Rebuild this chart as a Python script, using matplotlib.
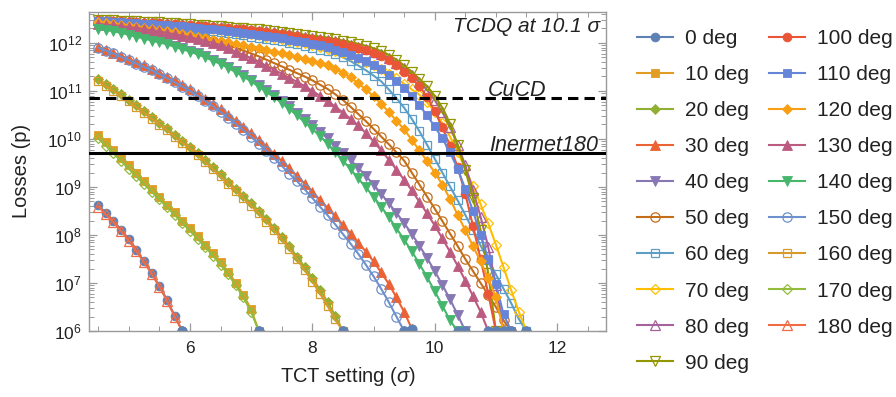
import numpy as np
import matplotlib
matplotlib.use("Agg")
import matplotlib.pyplot as plt
from matplotlib.ticker import LogLocator, MultipleLocator, NullFormatter, FixedLocator, LogFormatterMathtext

plt.rcParams['font.family'] = ['Liberation Sans', 'DejaVu Sans']
plt.rcParams['mathtext.fontset'] = 'custom'
plt.rcParams['mathtext.rm'] = 'Liberation Sans'
plt.rcParams['mathtext.it'] = 'Liberation Sans:italic'
plt.rcParams['mathtext.bf'] = 'Liberation Sans:bold'

# TCT setting in sigma (shared x grid)
SIGMA = [4.5, 4.625, 4.75, 4.875, 5.0, 5.125, 5.25, 5.375,
         5.5, 5.625, 5.75, 5.875, 6.0, 6.125, 6.25, 6.375,
         6.5, 6.625, 6.75, 6.875, 7.0, 7.125, 7.25, 7.375,
         7.5, 7.625, 7.75, 7.875, 8.0, 8.125, 8.25, 8.375,
         8.5, 8.625, 8.75, 8.875, 9.0, 9.125, 9.25, 9.375,
         9.5, 9.625, 9.75, 9.875, 10.0, 10.125, 10.25, 10.375,
         10.5, 10.625, 10.75, 10.875, 11.0, 11.125, 11.25, 11.375,
         11.5]

ANGLE_LABELS = ['0 deg', '10 deg', '20 deg', '30 deg', '40 deg', '50 deg', '60 deg',
                '70 deg', '80 deg', '90 deg', '100 deg', '110 deg', '120 deg', '130 deg',
                '140 deg', '150 deg', '160 deg', '170 deg', '180 deg']

# log10 of losses (protons), one list per angle
log_loss_000 = [8.62, 8.46, 8.29, 8.11, 7.91, 7.68, 7.45, 7.21, 6.94, 6.65, 6.32, 6.00]
log_loss_010 = [10.09, 9.93, 9.77, 9.61, 9.45, 9.29, 9.12, 8.96,
                8.80, 8.63, 8.47, 8.30, 8.14, 7.97, 7.80, 7.62,
                7.43, 7.23, 7.00, 6.75, 6.45, 6.00]
log_loss_020 = [11.24, 11.14, 11.04, 10.93, 10.82, 10.70, 10.58, 10.46,
                10.34, 10.22, 10.09, 9.96, 9.84, 9.70, 9.56, 9.41,
                9.26, 9.11, 8.96, 8.81, 8.66, 8.50, 8.33, 8.15,
                7.96, 7.76, 7.55, 7.33, 7.10, 6.86, 6.60, 6.32,
                6.00]
log_loss_030 = [11.92, 11.86, 11.80, 11.73, 11.67, 11.60, 11.53, 11.46,
                11.38, 11.30, 11.22, 11.13, 11.04, 10.94, 10.84, 10.73,
                10.62, 10.50, 10.38, 10.25, 10.12, 9.98, 9.84, 9.69,
                9.54, 9.39, 9.23, 9.07, 8.90, 8.73, 8.56, 8.39,
                8.21, 8.03, 7.84, 7.65, 7.45, 7.22, 6.98, 6.70,
                6.40, 6.05]
log_loss_040 = [12.32, 12.29, 12.26, 12.23, 12.19, 12.15, 12.11, 12.07,
                12.03, 11.99, 11.94, 11.89, 11.84, 11.78, 11.72, 11.65,
                11.58, 11.50, 11.42, 11.33, 11.23, 11.13, 11.02, 10.91,
                10.80, 10.68, 10.55, 10.42, 10.29, 10.15, 10.01, 9.86,
                9.71, 9.56, 9.40, 9.23, 9.05, 8.86, 8.66, 8.46,
                8.25, 8.02, 7.78, 7.52, 7.25, 6.96, 6.66, 6.34,
                6.00]
log_loss_050 = [12.42, 12.41, 12.39, 12.38, 12.36, 12.34, 12.32, 12.30,
                12.27, 12.25, 12.22, 12.19, 12.16, 12.13, 12.09, 12.05,
                12.00, 11.95, 11.90, 11.84, 11.78, 11.72, 11.65, 11.58,
                11.51, 11.44, 11.37, 11.30, 11.22, 11.13, 11.04, 10.93,
                10.81, 10.67, 10.52, 10.37, 10.21, 10.05, 9.89, 9.72,
                9.55, 9.30, 9.05, 8.80, 8.55, 8.29, 8.03, 7.77,
                7.50, 7.25, 7.00, 6.75, 6.50, 6.22, 6.00]
log_loss_060 = [12.45, 12.44, 12.43, 12.42, 12.41, 12.40, 12.39, 12.38,
                12.36, 12.35, 12.33, 12.32, 12.30, 12.28, 12.26, 12.24,
                12.22, 12.20, 12.18, 12.16, 12.13, 12.11, 12.08, 12.06,
                12.03, 12.00, 11.97, 11.94, 11.90, 11.86, 11.83, 11.77,
                11.70, 11.62, 11.53, 11.43, 11.32, 11.20, 11.03, 10.85,
                10.65, 10.42, 10.16, 9.88, 9.59, 9.30, 9.01, 8.72,
                8.42, 8.10, 7.78, 7.48, 7.18, 6.88, 6.58, 6.25,
                6.00]
log_loss_070 = [12.46, 12.45, 12.44, 12.43, 12.42, 12.41, 12.40, 12.39,
                12.38, 12.37, 12.36, 12.34, 12.33, 12.31, 12.30, 12.28,
                12.26, 12.24, 12.22, 12.20, 12.18, 12.16, 12.13, 12.11,
                12.08, 12.05, 12.02, 11.99, 11.96, 11.92, 11.88, 11.84,
                11.79, 11.74, 11.68, 11.61, 11.53, 11.45, 11.36, 11.26,
                11.15, 11.03, 10.92, 10.76, 10.57, 10.33, 10.05, 9.73,
                9.38, 9.02, 8.64, 8.24, 7.80, 7.33, 6.85, 6.40,
                6.00]
log_loss_080 = [12.47, 12.47, 12.46, 12.45, 12.45, 12.44, 12.43, 12.43,
                12.42, 12.41, 12.40, 12.39, 12.38, 12.37, 12.36, 12.35,
                12.33, 12.32, 12.30, 12.29, 12.27, 12.25, 12.24, 12.22,
                12.20, 12.18, 12.16, 12.13, 12.11, 12.08, 12.06, 12.03,
                12.00, 11.96, 11.92, 11.88, 11.82, 11.76, 11.68, 11.58,
                11.47, 11.34, 11.19, 11.02, 10.81, 10.56, 10.25, 9.88,
                9.45, 8.93, 8.38, 7.75, 6.95, 6.00]
log_loss_090 = [12.48, 12.48, 12.47, 12.46, 12.46, 12.45, 12.44, 12.44,
                12.43, 12.42, 12.41, 12.40, 12.39, 12.38, 12.37, 12.36,
                12.35, 12.34, 12.32, 12.31, 12.29, 12.28, 12.26, 12.24,
                12.23, 12.21, 12.19, 12.17, 12.15, 12.13, 12.11, 12.08,
                12.05, 12.02, 11.98, 11.94, 11.89, 11.83, 11.75, 11.65,
                11.53, 11.40, 11.25, 11.10, 10.90, 10.65, 10.32, 9.88,
                9.35, 8.78, 8.10, 7.20, 6.00]
log_loss_100 = [12.47, 12.46, 12.46, 12.45, 12.44, 12.43, 12.42, 12.42,
                12.41, 12.40, 12.39, 12.38, 12.37, 12.36, 12.35, 12.34,
                12.32, 12.31, 12.29, 12.28, 12.26, 12.24, 12.22, 12.20,
                12.18, 12.16, 12.14, 12.11, 12.09, 12.06, 12.04, 12.01,
                11.98, 11.94, 11.90, 11.86, 11.80, 11.73, 11.64, 11.53,
                11.40, 11.26, 11.10, 10.88, 10.58, 10.24, 9.86, 9.41,
                8.86, 8.19, 7.50, 6.78, 6.00]
log_loss_110 = [12.46, 12.45, 12.44, 12.43, 12.42, 12.41, 12.40, 12.39,
                12.38, 12.37, 12.36, 12.35, 12.33, 12.32, 12.30, 12.29,
                12.27, 12.25, 12.23, 12.21, 12.19, 12.17, 12.15, 12.13,
                12.10, 12.07, 12.05, 12.02, 11.98, 11.95, 11.91, 11.86,
                11.81, 11.75, 11.69, 11.62, 11.54, 11.45, 11.34, 11.21,
                11.06, 10.89, 10.70, 10.49, 10.26, 10.01, 9.72, 9.38,
                8.96, 8.50, 8.00, 7.50, 6.98, 6.35, 6.00]
log_loss_120 = [12.43, 12.41, 12.40, 12.38, 12.36, 12.34, 12.32, 12.30,
                12.27, 12.25, 12.22, 12.19, 12.16, 12.13, 12.10, 12.07,
                12.04, 12.01, 11.98, 11.95, 11.92, 11.89, 11.86, 11.82,
                11.78, 11.74, 11.70, 11.66, 11.63, 11.58, 11.53, 11.46,
                11.38, 11.28, 11.16, 11.03, 10.89, 10.73, 10.56, 10.38,
                10.20, 9.98, 9.76, 9.54, 9.30, 9.05, 8.75, 8.42,
                8.10, 7.77, 7.45, 7.10, 6.70, 6.00]
log_loss_130 = [12.40, 12.38, 12.37, 12.35, 12.33, 12.31, 12.29, 12.26,
                12.24, 12.21, 12.18, 12.15, 12.12, 12.08, 12.04, 12.00,
                11.95, 11.89, 11.82, 11.75, 11.68, 11.60, 11.52, 11.44,
                11.36, 11.27, 11.19, 11.10, 11.00, 10.90, 10.79, 10.67,
                10.55, 10.42, 10.28, 10.12, 9.95, 9.76, 9.57, 9.36,
                9.15, 8.93, 8.69, 8.45, 8.20, 7.93, 7.65, 7.36,
                7.05, 6.73, 6.40, 6.00]
log_loss_140 = [12.30, 12.27, 12.24, 12.21, 12.17, 12.13, 12.09, 12.05,
                12.01, 11.97, 11.92, 11.87, 11.82, 11.76, 11.70, 11.63,
                11.56, 11.48, 11.39, 11.30, 11.20, 11.09, 10.98, 10.87,
                10.75, 10.62, 10.49, 10.35, 10.21, 10.06, 9.90, 9.73,
                9.55, 9.37, 9.18, 8.99, 8.80, 8.59, 8.37, 8.14,
                7.90, 7.66, 7.40, 7.12, 6.83, 6.53, 6.22, 6.00]
log_loss_150 = [11.90, 11.84, 11.78, 11.71, 11.64, 11.57, 11.50, 11.43,
                11.35, 11.27, 11.18, 11.09, 11.00, 10.90, 10.79, 10.68,
                10.56, 10.44, 10.31, 10.18, 10.04, 9.90, 9.75, 9.60,
                9.44, 9.28, 9.12, 8.95, 8.77, 8.59, 8.41, 8.22,
                8.02, 7.82, 7.61, 7.38, 7.14, 6.88, 6.60, 6.30,
                6.00]
log_loss_160 = [11.20, 11.10, 11.00, 10.89, 10.78, 10.66, 10.54, 10.42,
                10.30, 10.18, 10.05, 9.92, 9.80, 9.66, 9.52, 9.37,
                9.22, 9.07, 8.92, 8.76, 8.61, 8.45, 8.28, 8.10,
                7.91, 7.71, 7.49, 7.27, 7.03, 6.78, 6.52, 6.24,
                6.00]
log_loss_170 = [10.01, 9.86, 9.70, 9.54, 9.38, 9.22, 9.06, 8.90,
                8.74, 8.58, 8.42, 8.25, 8.09, 7.92, 7.75, 7.57,
                7.38, 7.18, 6.95, 6.70, 6.40, 6.00]
log_loss_180 = [8.59, 8.43, 8.26, 8.08, 7.88, 7.66, 7.43, 7.19, 6.92, 6.63, 6.30, 6.00]

CUCD_LEVEL = 7.0e10
INERMET_LEVEL = 5.0e9

series = [log_loss_000, log_loss_010, log_loss_020, log_loss_030, log_loss_040,
          log_loss_050, log_loss_060, log_loss_070, log_loss_080, log_loss_090,
          log_loss_100, log_loss_110, log_loss_120, log_loss_130, log_loss_140,
          log_loss_150, log_loss_160, log_loss_170, log_loss_180]

colors = ['#5E81B5', '#E19C24', '#8FB032', '#EB6235', '#8778B3', '#C56E1A', '#5D9EC7',
          '#FFBF00', '#A5609D', '#929600', '#E95536', '#6685D9', '#F89F13', '#BC5B80',
          '#47B66D', '#6E90CC', '#D69A2D', '#93BB3E', '#EF6C46']
marker_cycle = ['o', 's', 'D', '^', 'v']
size_cycle = [6.3, 5.6, 5.2, 6.8, 6.8]

fig = plt.figure(figsize=(8.96, 3.97), dpi=100)
ax = fig.add_axes([89 / 896, 1 - 331 / 397, (606 - 89) / 896, (331 - 11.7) / 397])

x_all = np.array(SIGMA)
for i, (vals, lab) in enumerate(zip(series, ANGLE_LABELS)):
    y = 10.0 ** np.array(vals)
    x = x_all[:len(vals)]
    m = marker_cycle[i % 5]
    ms = size_cycle[i % 5]
    filled = (i // 5) % 2 == 0
    col = colors[i]
    if filled:
        ax.plot(x, y, color=col, lw=1.5, marker=m, ms=ms, mfc=col, mec=col, mew=0.6,
                label=lab, zorder=2 + i * 0.01)
    else:
        ax.plot(x, y, color=col, lw=1.5, marker=m, ms=ms + 0.4, mfc='none', mec=col, mew=0.9,
                label=lab, zorder=2 + i * 0.01)
    # end point of each curve sits on the axis floor, shown as a blue dot
    ax.plot(x[-1:], y[-1:], ls='none', marker='o', ms=6.3, color=colors[0],
            zorder=2.5)

ax.axhline(CUCD_LEVEL, color='black', lw=2.2, ls=(0, (3.4, 2.0)), zorder=5)
ax.axhline(INERMET_LEVEL, color='black', lw=2.2, zorder=5)

ax.set_yscale('log')
ax.set_xlim(4.35, 12.8)
ax.set_ylim(1e6, 10 ** 12.65)

ax.xaxis.set_major_locator(FixedLocator([6, 8, 10, 12]))
ax.xaxis.set_minor_locator(MultipleLocator(0.5))
ax.xaxis.set_minor_formatter(NullFormatter())
ax.yaxis.set_major_locator(LogLocator(base=10, numticks=20))
ax.yaxis.set_minor_locator(LogLocator(base=10, subs=np.arange(2, 10), numticks=20))
ax.yaxis.set_minor_formatter(NullFormatter())
ax.yaxis.set_major_formatter(LogFormatterMathtext())

frame_col = '#9A9A9A'
for s in ax.spines.values():
    s.set_color(frame_col)
    s.set_linewidth(1.0)
ax.tick_params(which='both', direction='in', top=True, right=True, colors=frame_col,
               labelcolor='#222222', labelsize=12.5)
ax.tick_params(which='major', length=6, width=0.9)
ax.tick_params(which='minor', length=3.5, width=0.7)
ax.tick_params(axis='x', pad=7)
ax.tick_params(axis='y', pad=5)

ax.set_xlabel('TCT setting ($\\mathit{\\sigma}$)', fontsize=14.5, color='#222222', labelpad=7)
ax.set_ylabel('Losses (p)', fontsize=14.5, color='#222222', labelpad=12)

ax.text(0.988, 0.935, 'TCDQ at 10.1 \u03c3', transform=ax.transAxes, ha='right', va='baseline',
        fontsize=15, style='italic', color='#222222')
ax.annotate('CuCD', xy=(0.772, CUCD_LEVEL), xycoords=('axes fraction', 'data'),
            xytext=(0, 1.5), textcoords='offset points', ha='left', va='baseline',
            fontsize=15.5, style='italic', color='#222222', zorder=6)
ax.annotate('Inermet180', xy=(0.774, INERMET_LEVEL), xycoords=('axes fraction', 'data'),
            xytext=(0, 1.5), textcoords='offset points', ha='left', va='baseline',
            fontsize=15.5, style='italic', color='#222222', zorder=6)

handles, labels = ax.get_legend_handles_labels()
leg = fig.legend(handles, labels, ncol=2, loc='upper left',
                 bbox_to_anchor=(637 / 896, 1 - 29 / 397), frameon=False,
                 fontsize=15, handlelength=1.75, handletextpad=0.55, columnspacing=0.95,
                 labelspacing=0.82, borderpad=0.0, borderaxespad=0.0, numpoints=1)
for t in leg.get_texts():
    t.set_color('#222222')

fig.savefig('out.png', dpi=100)
